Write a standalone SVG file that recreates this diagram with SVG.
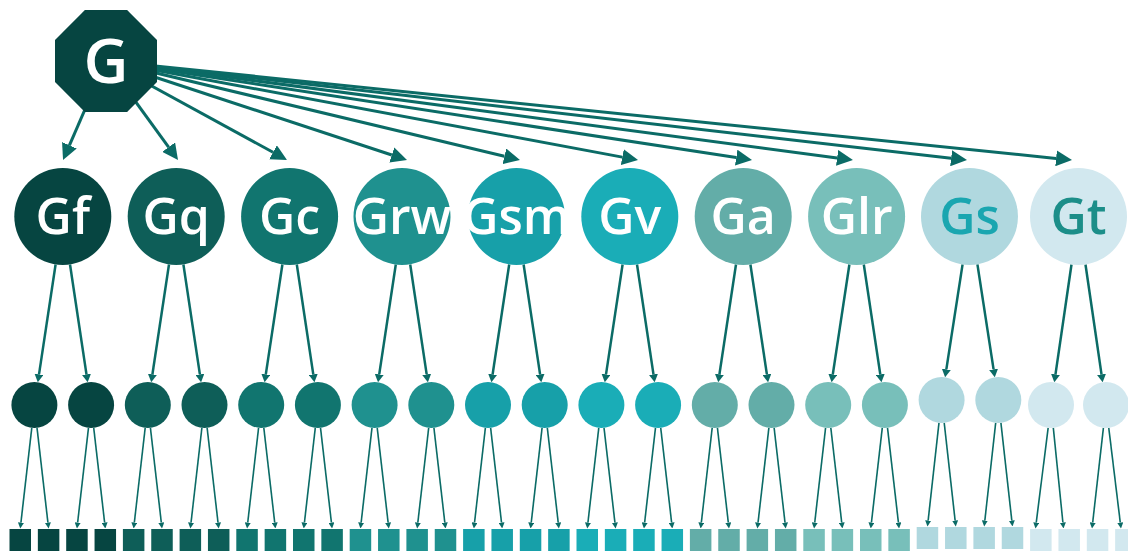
<svg xmlns="http://www.w3.org/2000/svg" width="1128" height="552" viewBox="0 0 1128 552">
<style>
.e1{stroke:#0b6b66;stroke-width:3;fill:none;marker-end:url(#aL)}
.e2{stroke:#0b6b66;stroke-width:2.5;fill:none;marker-end:url(#aM)}
.e3{stroke:#0b6b66;stroke-width:1.6;fill:none;marker-end:url(#aS)}
.t{font-family:"Open Sans","Noto Sans","DejaVu Sans",sans-serif;font-weight:600;text-anchor:middle;fill:#ffffff}
.t1{font-size:50px}
.c0{fill:#064541}.c1{fill:#0e5e58}.c2{fill:#11756f}.c3{fill:#1f918f}.c4{fill:#17a0a9}
.c5{fill:#1aadb7}.c6{fill:#63ada8}.c7{fill:#78bfba}.c8{fill:#b0d8df}.c9{fill:#d2e8ef}
</style>
<defs>
<marker id="aL" markerUnits="userSpaceOnUse" viewBox="0 -8 16 16" markerWidth="16" markerHeight="16" refX="0" refY="0" orient="auto"><path d="M0,-8 L16,0 L0,8 z" fill="#0b6b66"/></marker>
<marker id="aM" markerUnits="userSpaceOnUse" viewBox="0 -4.5 8 9" markerWidth="8" markerHeight="9" refX="0" refY="0" orient="auto"><path d="M0,-4.5 L8,0 L0,4.5 z" fill="#0b6b66"/></marker>
<marker id="aS" markerUnits="userSpaceOnUse" viewBox="0 -3 6 6" markerWidth="6" markerHeight="6" refX="0" refY="0" orient="auto"><path d="M0,-3 L6,0 L0,3 z" fill="#0b6b66"/></marker>
</defs>
<g id="connectors">
<line class="e1" x1="106" y1="61" x2="69.4" y2="145.3"/>
<line class="e1" x1="106" y1="61" x2="168.6" y2="147.1"/>
<line class="e1" x1="106" y1="61" x2="273.0" y2="152.3"/>
<line class="e1" x1="106" y1="61" x2="391.8" y2="155.0"/>
<line class="e1" x1="106" y1="61" x2="504.4" y2="156.3"/>
<line class="e1" x1="106" y1="61" x2="622.3" y2="157.1"/>
<line class="e1" x1="106" y1="61" x2="736.2" y2="157.6"/>
<line class="e1" x1="106" y1="61" x2="837.1" y2="157.9"/>
<line class="e1" x1="106" y1="61" x2="951.1" y2="158.2"/>
<line class="e1" x1="106" y1="61" x2="1056.1" y2="158.4"/>
<line class="e2" x1="55.59" y1="264.46" x2="39.01" y2="374.34"/>
<line class="e2" x1="70.01" y1="264.46" x2="86.49" y2="374.34"/>
<line class="e2" x1="168.99" y1="264.46" x2="152.41" y2="374.34"/>
<line class="e2" x1="183.41" y1="264.46" x2="199.89" y2="374.34"/>
<line class="e2" x1="282.39" y1="264.46" x2="265.81" y2="374.34"/>
<line class="e2" x1="296.81" y1="264.46" x2="313.29" y2="374.34"/>
<line class="e2" x1="395.79" y1="264.46" x2="379.21" y2="374.34"/>
<line class="e2" x1="410.21" y1="264.46" x2="426.69" y2="374.34"/>
<line class="e2" x1="509.19" y1="264.46" x2="492.61" y2="374.34"/>
<line class="e2" x1="523.61" y1="264.46" x2="540.09" y2="374.34"/>
<line class="e2" x1="622.59" y1="264.46" x2="606.01" y2="374.34"/>
<line class="e2" x1="637.01" y1="264.46" x2="653.49" y2="374.34"/>
<line class="e2" x1="735.99" y1="264.46" x2="719.41" y2="374.34"/>
<line class="e2" x1="750.41" y1="264.46" x2="766.89" y2="374.34"/>
<line class="e2" x1="849.39" y1="264.46" x2="832.81" y2="374.34"/>
<line class="e2" x1="863.81" y1="264.46" x2="880.29" y2="374.34"/>
<line class="e2" x1="962.58" y1="264.43" x2="946.34" y2="369.36"/>
<line class="e2" x1="977.42" y1="264.43" x2="993.58" y2="369.36"/>
<line class="e2" x1="1071.5" y1="264.49" x2="1055.48" y2="374.33"/>
<line class="e2" x1="1085.5" y1="264.49" x2="1101.52" y2="374.33"/>
<line class="e3" x1="31.78" y1="427.85" x2="20.93" y2="522.54"/>
<line class="e3" x1="37.02" y1="427.85" x2="47.92" y2="522.54"/>
<line class="e3" x1="88.48" y1="427.85" x2="77.63" y2="522.54"/>
<line class="e3" x1="93.72" y1="427.85" x2="104.62" y2="522.54"/>
<line class="e3" x1="145.18" y1="427.85" x2="134.33" y2="522.54"/>
<line class="e3" x1="150.42" y1="427.85" x2="161.32" y2="522.54"/>
<line class="e3" x1="201.88" y1="427.85" x2="191.03" y2="522.54"/>
<line class="e3" x1="207.12" y1="427.85" x2="218.02" y2="522.54"/>
<line class="e3" x1="258.58" y1="427.85" x2="247.73" y2="522.54"/>
<line class="e3" x1="263.82" y1="427.85" x2="274.72" y2="522.54"/>
<line class="e3" x1="315.28" y1="427.85" x2="304.43" y2="522.54"/>
<line class="e3" x1="320.52" y1="427.85" x2="331.42" y2="522.54"/>
<line class="e3" x1="371.98" y1="427.85" x2="361.13" y2="522.54"/>
<line class="e3" x1="377.22" y1="427.85" x2="388.12" y2="522.54"/>
<line class="e3" x1="428.68" y1="427.85" x2="417.83" y2="522.54"/>
<line class="e3" x1="433.92" y1="427.85" x2="444.82" y2="522.54"/>
<line class="e3" x1="485.38" y1="427.85" x2="474.53" y2="522.54"/>
<line class="e3" x1="490.62" y1="427.85" x2="501.52" y2="522.54"/>
<line class="e3" x1="542.08" y1="427.85" x2="531.23" y2="522.54"/>
<line class="e3" x1="547.32" y1="427.85" x2="558.22" y2="522.54"/>
<line class="e3" x1="598.78" y1="427.85" x2="587.93" y2="522.54"/>
<line class="e3" x1="604.02" y1="427.85" x2="614.92" y2="522.54"/>
<line class="e3" x1="655.48" y1="427.85" x2="644.63" y2="522.54"/>
<line class="e3" x1="660.72" y1="427.85" x2="671.62" y2="522.54"/>
<line class="e3" x1="712.18" y1="427.85" x2="701.33" y2="522.54"/>
<line class="e3" x1="717.42" y1="427.85" x2="728.32" y2="522.54"/>
<line class="e3" x1="768.88" y1="427.85" x2="758.03" y2="522.54"/>
<line class="e3" x1="774.12" y1="427.85" x2="785.02" y2="522.54"/>
<line class="e3" x1="825.58" y1="427.85" x2="814.73" y2="522.54"/>
<line class="e3" x1="830.82" y1="427.85" x2="841.72" y2="522.54"/>
<line class="e3" x1="882.28" y1="427.85" x2="871.43" y2="522.54"/>
<line class="e3" x1="887.52" y1="427.85" x2="898.42" y2="522.54"/>
<line class="e3" x1="938.98" y1="422.85" x2="928.13" y2="520.54"/>
<line class="e3" x1="944.22" y1="422.85" x2="955.12" y2="520.54"/>
<line class="e3" x1="995.68" y1="422.85" x2="984.83" y2="520.54"/>
<line class="e3" x1="1000.92" y1="422.85" x2="1011.82" y2="520.54"/>
<line class="e3" x1="1048.14" y1="427.82" x2="1036.25" y2="522.55"/>
<line class="e3" x1="1053.32" y1="427.88" x2="1062.9" y2="522.53"/>
<line class="e3" x1="1103.41" y1="427.85" x2="1092.68" y2="522.54"/>
<line class="e3" x1="1108.77" y1="427.83" x2="1120.28" y2="522.54"/>
</g>
<g id="G"><polygon class="c0" points="84.9,10 127.1,10 157,39.9 157,82.1 127.1,112 84.9,112 55,82.1 55,39.9"/><text class="t" x="106" y="83" font-size="62">G</text></g>
<g id="Gf"><circle class="c0" cx="62.8" cy="216.5" r="48.5"/><text class="t t1" x="62.8" y="234">Gf</text></g>
<g id="Gq"><circle class="c1" cx="176.2" cy="216.5" r="48.5"/><text class="t t1" x="176.2" y="234">Gq</text></g>
<g id="Gc"><circle class="c2" cx="289.6" cy="216.5" r="48.5"/><text class="t t1" x="289.6" y="234">Gc</text></g>
<g id="Grw"><circle class="c3" cx="402" cy="216.5" r="48.5"/><text class="t t1" x="402" y="234">Grw</text></g>
<g id="Gsm"><circle class="c4" cx="516.4" cy="216.5" r="48.5"/><text class="t t1" x="516.4" y="234">Gsm</text></g>
<g id="Gv"><circle class="c5" cx="629.8" cy="216.5" r="48.5"/><text class="t t1" x="629.8" y="234">Gv</text></g>
<g id="Ga"><circle class="c6" cx="743.2" cy="216.5" r="48.5"/><text class="t t1" x="743.2" y="234">Ga</text></g>
<g id="Glr"><circle class="c7" cx="856.6" cy="216.5" r="48.5"/><text class="t t1" x="856.6" y="234">Glr</text></g>
<g id="Gs"><circle class="c8" cx="969.5" cy="216.5" r="48.5"/><text class="t t1" x="969.5" y="234" style="fill:#1aa6b0">Gs</text></g>
<g id="Gt"><circle class="c9" cx="1078.5" cy="216.5" r="48.5"/><text class="t t1" x="1078.5" y="234" style="fill:#1c8e89">Gt</text></g>
<g id="Gf1"><circle class="c0" cx="34.4" cy="405" r="23"/></g>
<g id="Gf2"><circle class="c0" cx="91.1" cy="405" r="23"/></g>
<g id="Gq1"><circle class="c1" cx="147.8" cy="405" r="23"/></g>
<g id="Gq2"><circle class="c1" cx="204.5" cy="405" r="23"/></g>
<g id="Gc1"><circle class="c2" cx="261.2" cy="405" r="23"/></g>
<g id="Gc2"><circle class="c2" cx="317.9" cy="405" r="23"/></g>
<g id="Grw1"><circle class="c3" cx="374.6" cy="405" r="23"/></g>
<g id="Grw2"><circle class="c3" cx="431.3" cy="405" r="23"/></g>
<g id="Gsm1"><circle class="c4" cx="488" cy="405" r="23"/></g>
<g id="Gsm2"><circle class="c4" cx="544.7" cy="405" r="23"/></g>
<g id="Gv1"><circle class="c5" cx="601.4" cy="405" r="23"/></g>
<g id="Gv2"><circle class="c5" cx="658.1" cy="405" r="23"/></g>
<g id="Ga1"><circle class="c6" cx="714.8" cy="405" r="23"/></g>
<g id="Ga2"><circle class="c6" cx="771.5" cy="405" r="23"/></g>
<g id="Glr1"><circle class="c7" cx="828.2" cy="405" r="23"/></g>
<g id="Glr2"><circle class="c7" cx="884.9" cy="405" r="23"/></g>
<g id="Gs1"><circle class="c8" cx="941.6" cy="400" r="23"/></g>
<g id="Gs2"><circle class="c8" cx="998.3" cy="400" r="23"/></g>
<g id="Gt1"><circle class="c9" cx="1051" cy="405" r="23"/></g>
<g id="Gt2"><circle class="c9" cx="1106" cy="405" r="23"/></g>
<g id="L0"><rect class="c0" x="9.5" y="529" width="21.5" height="22"/></g>
<g id="L1"><rect class="c0" x="37.85" y="529" width="21.5" height="22"/></g>
<g id="L2"><rect class="c0" x="66.2" y="529" width="21.5" height="22"/></g>
<g id="L3"><rect class="c0" x="94.55" y="529" width="21.5" height="22"/></g>
<g id="L4"><rect class="c1" x="122.9" y="529" width="21.5" height="22"/></g>
<g id="L5"><rect class="c1" x="151.25" y="529" width="21.5" height="22"/></g>
<g id="L6"><rect class="c1" x="179.6" y="529" width="21.5" height="22"/></g>
<g id="L7"><rect class="c1" x="207.95" y="529" width="21.5" height="22"/></g>
<g id="L8"><rect class="c2" x="236.3" y="529" width="21.5" height="22"/></g>
<g id="L9"><rect class="c2" x="264.65" y="529" width="21.5" height="22"/></g>
<g id="L10"><rect class="c2" x="293" y="529" width="21.5" height="22"/></g>
<g id="L11"><rect class="c2" x="321.35" y="529" width="21.5" height="22"/></g>
<g id="L12"><rect class="c3" x="349.7" y="529" width="21.5" height="22"/></g>
<g id="L13"><rect class="c3" x="378.05" y="529" width="21.5" height="22"/></g>
<g id="L14"><rect class="c3" x="406.4" y="529" width="21.5" height="22"/></g>
<g id="L15"><rect class="c3" x="434.75" y="529" width="21.5" height="22"/></g>
<g id="L16"><rect class="c4" x="463.1" y="529" width="21.5" height="22"/></g>
<g id="L17"><rect class="c4" x="491.45" y="529" width="21.5" height="22"/></g>
<g id="L18"><rect class="c4" x="519.8" y="529" width="21.5" height="22"/></g>
<g id="L19"><rect class="c4" x="548.15" y="529" width="21.5" height="22"/></g>
<g id="L20"><rect class="c5" x="576.5" y="529" width="21.5" height="22"/></g>
<g id="L21"><rect class="c5" x="604.85" y="529" width="21.5" height="22"/></g>
<g id="L22"><rect class="c5" x="633.2" y="529" width="21.5" height="22"/></g>
<g id="L23"><rect class="c5" x="661.55" y="529" width="21.5" height="22"/></g>
<g id="L24"><rect class="c6" x="689.9" y="529" width="21.5" height="22"/></g>
<g id="L25"><rect class="c6" x="718.25" y="529" width="21.5" height="22"/></g>
<g id="L26"><rect class="c6" x="746.6" y="529" width="21.5" height="22"/></g>
<g id="L27"><rect class="c6" x="774.95" y="529" width="21.5" height="22"/></g>
<g id="L28"><rect class="c7" x="803.3" y="529" width="21.5" height="22"/></g>
<g id="L29"><rect class="c7" x="831.65" y="529" width="21.5" height="22"/></g>
<g id="L30"><rect class="c7" x="860" y="529" width="21.5" height="22"/></g>
<g id="L31"><rect class="c7" x="888.35" y="529" width="21.5" height="22"/></g>
<g id="L32"><rect class="c8" x="916.7" y="527" width="21.5" height="22"/></g>
<g id="L33"><rect class="c8" x="945.05" y="527" width="21.5" height="22"/></g>
<g id="L34"><rect class="c8" x="973.4" y="527" width="21.5" height="22"/></g>
<g id="L35"><rect class="c8" x="1001.75" y="527" width="21.5" height="22"/></g>
<g id="L36"><rect class="c9" x="1030.1" y="529" width="21.5" height="22"/></g>
<g id="L37"><rect class="c9" x="1058.45" y="529" width="21.5" height="22"/></g>
<g id="L38"><rect class="c9" x="1086.8" y="529" width="21.5" height="22"/></g>
<g id="L39"><rect class="c9" x="1115.15" y="529" width="21.5" height="22"/></g>
</svg>
